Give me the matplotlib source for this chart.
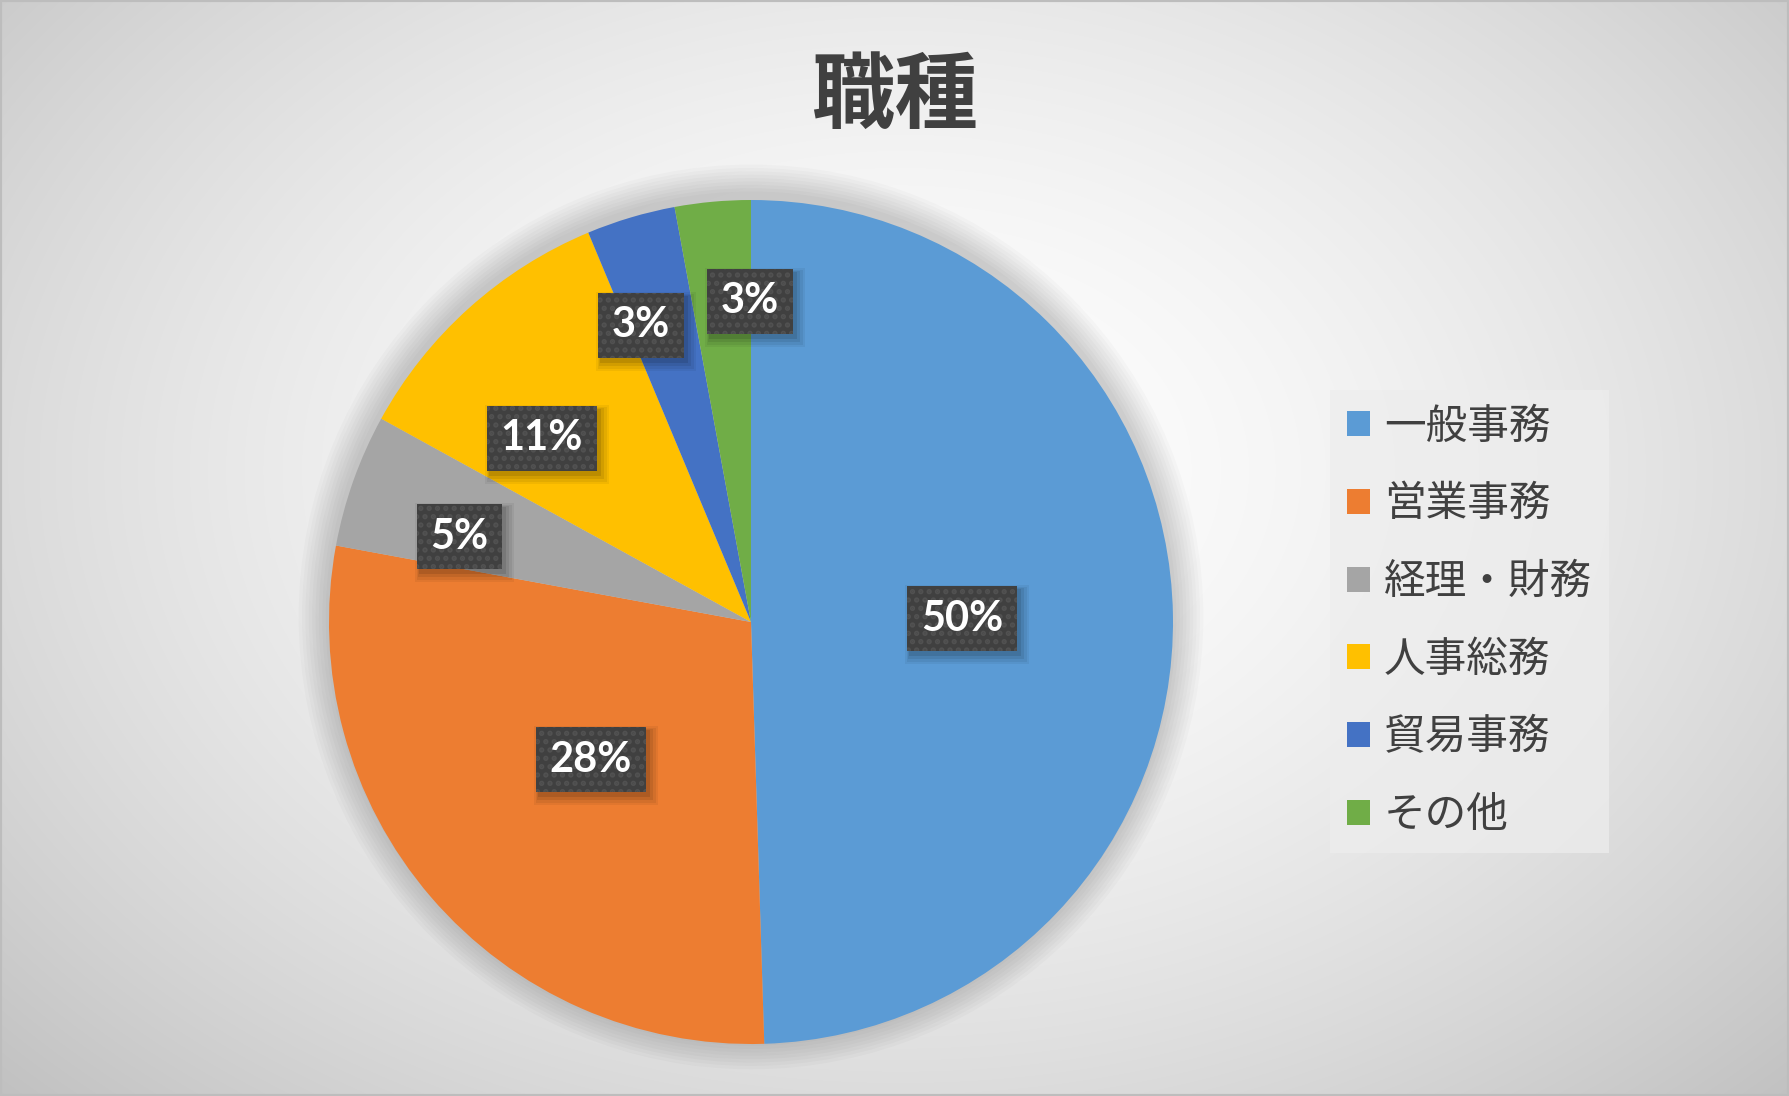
import numpy as np
import matplotlib
matplotlib.use("Agg")
import matplotlib.pyplot as plt
from matplotlib.patches import Patch, Rectangle, Circle

plt.rcParams['font.family'] = ['Noto Sans CJK JP', 'DejaVu Sans']
plt.rcParams['hatch.linewidth'] = 2.6

title = "職種"
categories = ["一般事務", "営業事務", "経理・財務", "人事総務", "貿易事務", "その他"]
values = [49.5, 28.4, 5.1, 10.7, 3.4, 2.9]
colors = ["#5B9BD5", "#ED7D31", "#A5A5A5", "#FFC000", "#4472C4", "#70AD47"]
label_radius = [0.50, 0.50, 0.72, 0.66, 0.75, 0.76]
label_angle_shift = [0.0, 0.0, 3.3, 6.8, 3.8, -5.0]

W, H = 1789, 1096
fig = plt.figure(figsize=(W / 100, H / 100), dpi=100)

# background radial gradient
bg = fig.add_axes([0, 0, 1, 1])
yy, xx = np.mgrid[0:H, 0:W]
cx, cy = 900, 470
d = np.sqrt(((xx - cx) / (W * 0.62)) ** 2 + ((yy - cy) / (H * 0.72)) ** 2)
d = np.clip(d, 0, 1.2)
val = 1.0 - 0.20 * d ** 1.6
img = np.dstack([val, val, val])
bg.imshow(img, extent=[0, 1, 0, 1], aspect='auto', origin='upper', interpolation='bilinear')
bg.set_xlim(0, 1)
bg.set_ylim(0, 1)
bg.axis('off')
bg.add_patch(Rectangle((0, 0), 1, 1, transform=bg.transAxes, fill=False,
                       edgecolor='#bdbdbd', linewidth=3))

# pie axes
R = 422
cxp, cyp = 751, 622
half = 1.1 * R
ax = fig.add_axes([(cxp - half) / W, (H - (cyp + half)) / H, 2 * half / W, 2 * half / H])
ax.set_xlim(-1.1, 1.1)
ax.set_ylim(-1.1, 1.1)
ax.set_aspect('equal')
ax.axis('off')

# soft glow/shadow around pie
for i in range(9):
    ax.add_patch(Circle((0, 0.012), 1.0 + 0.008 * (i + 1), facecolor='black',
                        alpha=0.02, edgecolor='none', zorder=0))

wedges, _ = ax.pie(values, colors=colors, startangle=90, counterclock=False,
                   radius=1.0, center=(0, 0), frame=False,
                   wedgeprops=dict(linewidth=0, zorder=2))
ax.set_xlim(-1.1, 1.1)
ax.set_ylim(-1.1, 1.1)

total = sum(values)
texts = []
for w, v, r, sh in zip(wedges, values, label_radius, label_angle_shift):
    ang = np.deg2rad((w.theta1 + w.theta2) / 2 + sh)
    x, y = r * np.cos(ang), r * np.sin(ang)
    lab = f"{v / total * 100:.0f}%"
    t = ax.text(x, y, lab, ha='center', va='center', fontsize=30, fontweight='bold',
                family=['Lato', 'DejaVu Sans'], color='white', zorder=4,
                bbox=dict(boxstyle='square,pad=0.33', facecolor='#404040',
                          edgecolor='#515151', linewidth=0, hatch='..'))
    texts.append(t)

fig.text(894 / W, 1 - 97 / H, title, ha='center', va='center', fontsize=60,
         fontweight='bold', color='#404040')

handles = [Patch(facecolor=c, edgecolor='none') for c in colors]
leg = fig.legend(handles, categories, loc='upper left',
                 bbox_to_anchor=(1330 / W, 1 - 390 / H), frameon=True,
                 fontsize=30, labelcolor='#404040', handlelength=0.55,
                 handleheight=0.55, handletextpad=0.35, labelspacing=0.88,
                 borderpad=0.4, borderaxespad=0, fancybox=False)
fr = leg.get_frame()
fr.set_facecolor('#ededed')
fr.set_alpha(0.75)
fr.set_edgecolor('none')

# soft drop shadows behind the label boxes (patches in display coords)
fig.canvas.draw()
for t in texts:
    bb = t.get_bbox_patch().get_window_extent()
    for grow, dx, dy, a in [(7, 5, -6, 0.05), (5, 5, -6, 0.06), (3, 4, -5, 0.08), (1, 3, -4, 0.10)]:
        ax.add_patch(Rectangle((bb.x0 - grow + dx, bb.y0 - grow + dy),
                               bb.width + 2 * grow, bb.height + 2 * grow,
                               transform=None, facecolor='black', alpha=a,
                               edgecolor='none', zorder=3))

fig.savefig('out.png', dpi=100)
